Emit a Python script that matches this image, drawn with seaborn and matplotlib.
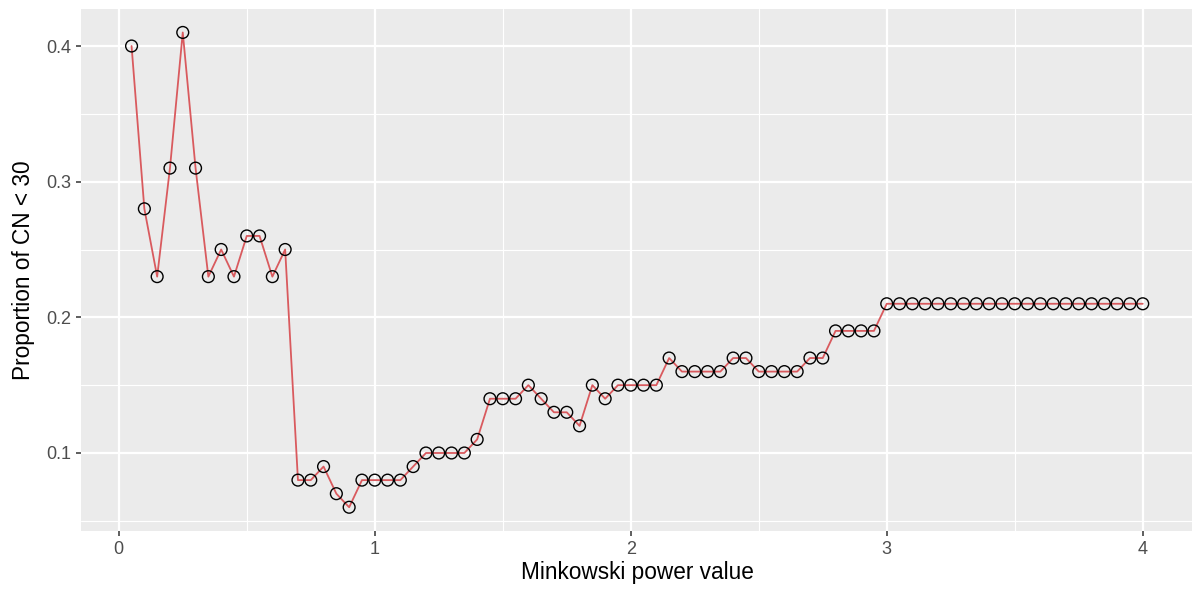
import numpy as np
import pandas as pd
import matplotlib
matplotlib.use("Agg")
import matplotlib.pyplot as plt
import seaborn as sns
from matplotlib.ticker import MultipleLocator

# Minkowski power values (0.05 .. 4.00 in steps of 0.05)
power = [0.05, 0.10, 0.15, 0.20, 0.25, 0.30, 0.35, 0.40, 0.45, 0.50,
         0.55, 0.60, 0.65, 0.70, 0.75, 0.80, 0.85, 0.90, 0.95, 1.00,
         1.05, 1.10, 1.15, 1.20, 1.25, 1.30, 1.35, 1.40, 1.45, 1.50,
         1.55, 1.60, 1.65, 1.70, 1.75, 1.80, 1.85, 1.90, 1.95, 2.00,
         2.05, 2.10, 2.15, 2.20, 2.25, 2.30, 2.35, 2.40, 2.45, 2.50,
         2.55, 2.60, 2.65, 2.70, 2.75, 2.80, 2.85, 2.90, 2.95, 3.00,
         3.05, 3.10, 3.15, 3.20, 3.25, 3.30, 3.35, 3.40, 3.45, 3.50,
         3.55, 3.60, 3.65, 3.70, 3.75, 3.80, 3.85, 3.90, 3.95, 4.00]

# proportion of CN < 30
proportion = [0.40, 0.28, 0.23, 0.31, 0.41, 0.31, 0.23, 0.25, 0.23, 0.26,
              0.26, 0.23, 0.25, 0.08, 0.08, 0.09, 0.07, 0.06, 0.08, 0.08,
              0.08, 0.08, 0.09, 0.10, 0.10, 0.10, 0.10, 0.11, 0.14, 0.14,
              0.14, 0.15, 0.14, 0.13, 0.13, 0.12, 0.15, 0.14, 0.15, 0.15,
              0.15, 0.15, 0.17, 0.16, 0.16, 0.16, 0.16, 0.17, 0.17, 0.16,
              0.16, 0.16, 0.16, 0.17, 0.17, 0.19, 0.19, 0.19, 0.19, 0.21,
              0.21, 0.21, 0.21, 0.21, 0.21, 0.21, 0.21, 0.21, 0.21, 0.21,
              0.21, 0.21, 0.21, 0.21, 0.21, 0.21, 0.21, 0.21, 0.21, 0.21]

x_ticks = [0, 1, 2, 3, 4]
y_ticks = [0.1, 0.2, 0.3, 0.4]

df = pd.DataFrame({"power": power, "proportion": proportion})

# ggplot-like grey theme
sns.set_style("darkgrid", {"axes.facecolor": "#EBEBEB", "grid.color": "white"})
plt.rcParams["font.family"] = ["Liberation Sans", "DejaVu Sans"]

fig = plt.figure(figsize=(11.92, 5.91), dpi=100)
W, H = 1192, 591
left, right = 81, 1193.3
top, bottom = 8.7, 531
ax = fig.add_axes([left / W, 1 - bottom / H, (right - left) / W, (bottom - top) / H])

sns.lineplot(data=df, x="power", y="proportion", ax=ax, color="#D95A5E",
             linewidth=1.3, zorder=3)
sns.scatterplot(data=df, x="power", y="proportion", ax=ax, s=72,
                facecolor="none", edgecolor="black", linewidth=1.0, zorder=4)

ax.set_xlim(-0.1475, 4.1975)
ax.set_ylim(0.0425, 0.4275)
ax.set_xticks(x_ticks)
ax.set_xticklabels([str(t) for t in x_ticks])
ax.set_yticks(y_ticks)
ax.set_yticklabels([f"{t:.1f}" for t in y_ticks])
ax.xaxis.set_minor_locator(MultipleLocator(0.5))
ax.yaxis.set_minor_locator(MultipleLocator(0.05))

ax.grid(which="major", color="white", linewidth=1.6)
ax.grid(which="minor", color="white", linewidth=0.8)
ax.set_axisbelow(True)
for s in ax.spines.values():
    s.set_visible(False)

ax.tick_params(axis="both", which="major", length=3.8, width=1.1, color="#333333",
               labelsize=13, labelcolor="#4D4D4D", pad=3.5, direction="out",
               bottom=True, left=True)
ax.tick_params(axis="both", which="minor", length=0)

ax.set_xlabel("Minkowski power value", fontsize=16.3, color="black", labelpad=2)
ax.set_ylabel("Proportion of CN < 30", fontsize=16.3, color="black", labelpad=8)

fig.savefig("out.png", dpi=100)
